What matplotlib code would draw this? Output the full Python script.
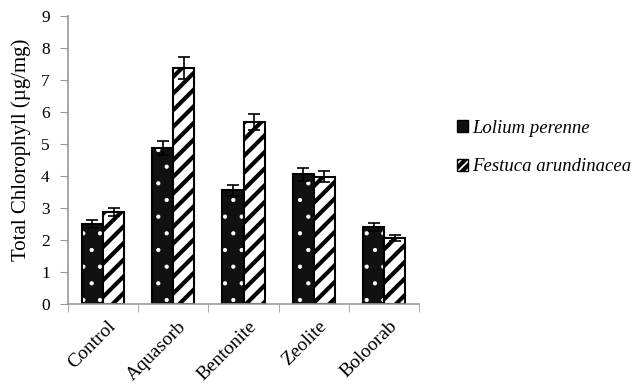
import numpy as np
import matplotlib
matplotlib.use("Agg")
import matplotlib.pyplot as plt
import matplotlib.transforms as mtransforms
from matplotlib.patches import Patch

plt.rcParams['font.family'] = ['Liberation Serif', 'DejaVu Serif']

# data
categories = ['Control', 'Aquasorb', 'Bentonite', 'Zeolite', 'Boloorab']
lolium = [2.50, 4.87, 3.55, 4.05, 2.40]
lolium_err = [0.12, 0.22, 0.17, 0.20, 0.12]
festuca = [2.87, 7.38, 5.68, 3.98, 2.07]
festuca_err = [0.13, 0.35, 0.25, 0.18, 0.10]
series_names = ['Lolium perenne', 'Festuca arundinacea']

fig = plt.figure(figsize=(6.4, 3.9), dpi=100)
ax = fig.add_axes([0.106, 0.2205, 0.549, 0.7385])

x = np.arange(len(categories))
w = 0.3

# black bars with white dots (hatch drawn in white, outline added on top)
plt.rcParams['hatch.linewidth'] = 0.6
b1 = ax.bar(x - w / 2, lolium, w, color='#111111', edgecolor='white', hatch='.', linewidth=0)
ax.bar(x - w / 2, lolium, w, fill=False, edgecolor='black', linewidth=1.5)

# white bars with thick black stripes
plt.rcParams['hatch.linewidth'] = 3.0
b2 = ax.bar(x + w / 2, festuca, w, color='white', edgecolor='black', hatch='//', linewidth=1.5)
for b in b2:
    try:
        b.set_hatch_linewidth(3.0)
    except AttributeError:
        pass
for b in b1:
    try:
        b.set_hatch_linewidth(0.6)
    except AttributeError:
        pass

ax.errorbar(x - w / 2, lolium, yerr=lolium_err, fmt='none', ecolor='black', elinewidth=1.2, capsize=4, capthick=1.2)
ax.errorbar(x + w / 2, festuca, yerr=festuca_err, fmt='none', ecolor='black', elinewidth=1.2, capsize=4, capthick=1.2)

ax.set_xlim(-0.5, len(categories) - 0.5)
ax.set_ylim(0, 9)
ax.set_yticks(range(0, 10))
ax.tick_params(axis='y', labelsize=12.5, length=6, color='#999999', direction='out', pad=7)
ax.set_xticks(x)
ax.set_xticklabels(categories, rotation=45, ha='right', rotation_mode='anchor', fontsize=14)
ax.tick_params(axis='x', which='major', length=0, pad=10)
ax.set_xticks(np.arange(-0.5, len(categories)), minor=True)
ax.tick_params(axis='x', which='minor', length=6, color='#999999', direction='out')
shift = mtransforms.ScaledTranslation(4 / 100, 0, fig.dpi_scale_trans)
for lab in ax.get_xticklabels():
    lab.set_transform(lab.get_transform() + shift)

for s in ['top', 'right']:
    ax.spines[s].set_visible(False)
for s in ['left', 'bottom']:
    ax.spines[s].set_color('#999999')
    ax.spines[s].set_linewidth(1.2)

ax.set_ylabel('Total Chlorophyll (µg/mg)', fontsize=15)
ax.yaxis.set_label_coords(-0.105, 0.535)

handles = [Patch(facecolor='#111111', edgecolor='black'),
           Patch(facecolor='white', edgecolor='black', hatch='////')]
fig.legend(handles, series_names, loc='upper left', bbox_to_anchor=(0.702, 0.712),
           frameon=False, prop={'style': 'italic', 'size': 13.5},
           handlelength=0.6, handleheight=0.6, handletextpad=0.2, labelspacing=1.15,
           borderaxespad=0)

fig.savefig('out.png', dpi=100)
